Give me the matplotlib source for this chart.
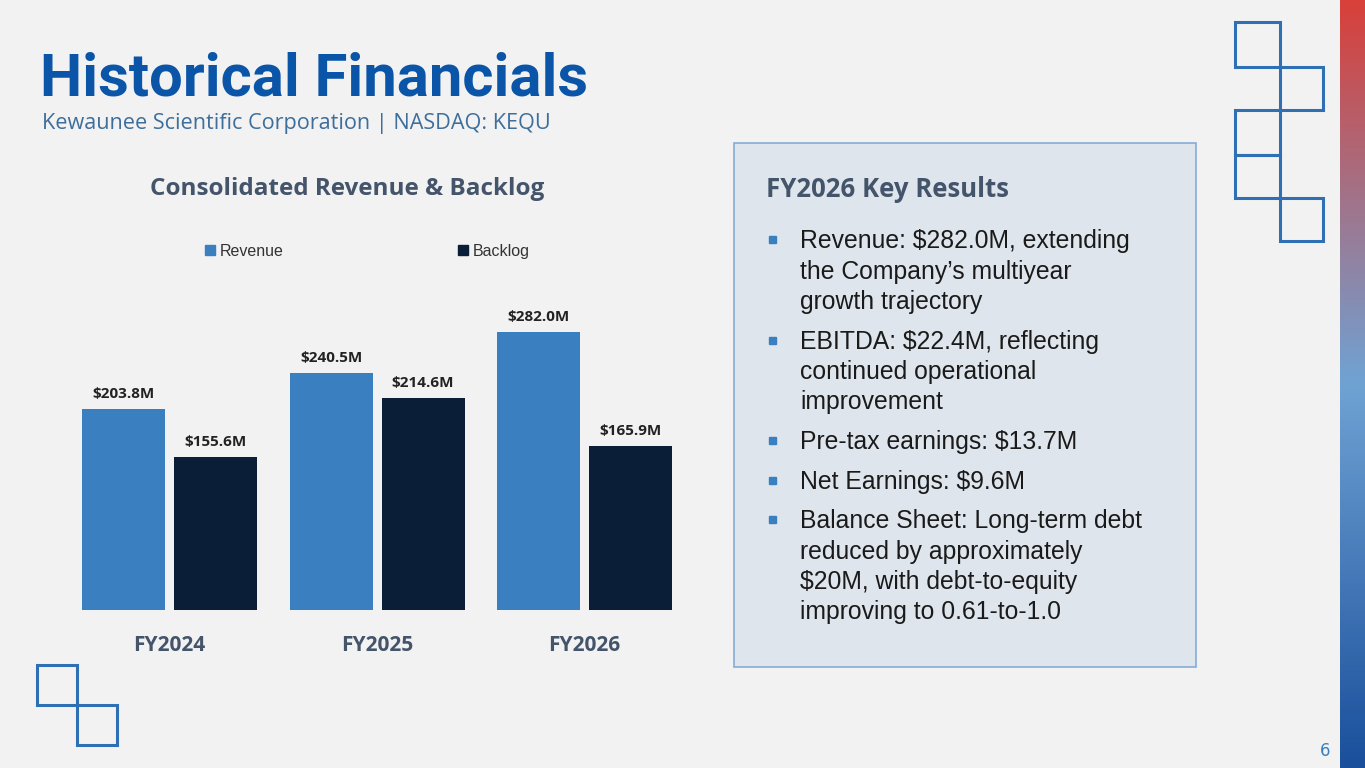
import matplotlib
matplotlib.use("Agg")
import matplotlib.pyplot as plt
from matplotlib.patches import Rectangle
from matplotlib.colors import LinearSegmentedColormap
import numpy as np

categories = ["FY2024", "FY2025", "FY2026"]
revenue = [203.8, 240.5, 282.0]
backlog = [155.6, 214.6, 165.9]
bullets = [
    ["Revenue: $282.0M, extending", "the Company\u2019s multiyear", "growth trajectory"],
    ["EBITDA: $22.4M, reflecting", "continued operational", "improvement"],
    ["Pre-tax earnings: $13.7M"],
    ["Net Earnings: $9.6M"],
    ["Balance Sheet: Long-term debt", "reduced by approximately", "$20M, with debt-to-equity", "improving to 0.61-to-1.0"],
]

W, H = 1365, 768
fig = plt.figure(figsize=(W/100, H/100), dpi=100)
fig.patch.set_facecolor("#f2f2f2")
ov = fig.add_axes([0, 0, 1, 1])
ov.axis("off")
ov.patch.set_alpha(0)

grad = np.linspace(0, 1, 256).reshape(-1, 1)
cm = LinearSegmentedColormap.from_list("g", ["#d8403a", "#6fa3d4", "#1a4f9c"])
ov.imshow(grad, cmap=cm, extent=(1340, 1365, 768, 0), aspect="auto", zorder=1)
ov.set_xlim(0, W); ov.set_ylim(H, 0)

sq = "#2f6fb3"
for (x0, y0, x1, y1) in [(1235, 22, 1280, 67), (1280, 67, 1323, 110), (1235, 110, 1280, 155),
                         (1235, 155, 1280, 198), (1280, 198, 1323, 241),
                         (37, 665, 77, 705), (77, 705, 117, 745)]:
    ov.add_patch(Rectangle((x0, y0), x1-x0, y1-y0, fill=False, ec=sq, lw=2.2))

ov.text(40, 96, "Historical Financials", fontsize=43, fontweight="bold", color="#0b55a8",
        family="Roboto", va="baseline")
ov.text(42, 129, "Kewaunee Scientific Corporation | NASDAQ: KEQU", fontsize=15.6, color="#3d6e9c",
        family="Open Sans", va="baseline")
ov.text(347, 195, "Consolidated Revenue & Backlog", fontsize=17.5, fontweight="bold",
        color="#44546a", family="Open Sans", ha="center", va="baseline")

ov.add_patch(Rectangle((205, 245), 10, 10, color="#3a7fbf"))
ov.text(220, 256, "Revenue", fontsize=11.5, color="#333333", family="Liberation Sans", va="baseline")
ov.add_patch(Rectangle((458, 245), 10, 10, color="#0b1e38"))
ov.text(473, 256, "Backlog", fontsize=11.5, color="#333333", family="Liberation Sans", va="baseline")

ov.add_patch(Rectangle((734, 143), 462, 524, fc="#dee5ec", ec="#86acd4", lw=1.2))
ov.text(766, 197, "FY2026 Key Results", fontsize=18.5, fontweight="bold", color="#44546a",
        family="Open Sans", va="baseline")
y = 248
for b in bullets:
    ov.add_patch(Rectangle((769, y-12), 7, 7, color="#3a7fbf"))
    for line in b:
        ov.text(800, y, line, fontsize=17.8, color="#1a1a1a", family="Liberation Sans", va="baseline")
        y += 30.5
    y += 9
ov.text(1330, 756, "6", fontsize=12, color="#3a7fbf", ha="right", va="baseline")

x0p, x1p, ybot, ytop = 70, 685, 610, 270
ax = fig.add_axes([x0p/W, 1-ybot/H, (x1p-x0p)/W, (ybot-ytop)/H])
ax.patch.set_alpha(0)
scale = 201/203.8
ax.set_ylim(0, (ybot-ytop)/scale)
ax.set_xlim(-0.48, 2.484)
x = np.arange(len(categories))
off = 0.2217
ax.bar(x-off, revenue, 0.4, color="#3a7fbf")
ax.bar(x+off, backlog, 0.4, color="#0b1e38")
for xi, r, b in zip(x, revenue, backlog):
    ax.text(xi-off, r+8, f"${r:.1f}M", ha="center", va="bottom", fontsize=11, fontweight="bold",
            color="#222222", family="Open Sans")
    ax.text(xi+off, b+8, f"${b:.1f}M", ha="center", va="bottom", fontsize=11, fontweight="bold",
            color="#222222", family="Open Sans")
ax.set_xticks(x)
ax.set_xticklabels(categories, fontsize=15, fontweight="bold", color="#44546a", family="Open Sans")
ax.tick_params(length=0, pad=18)
ax.set_yticks([])
for s in ax.spines.values():
    s.set_visible(False)

fig.savefig("out.png", dpi=100, facecolor=fig.get_facecolor())
